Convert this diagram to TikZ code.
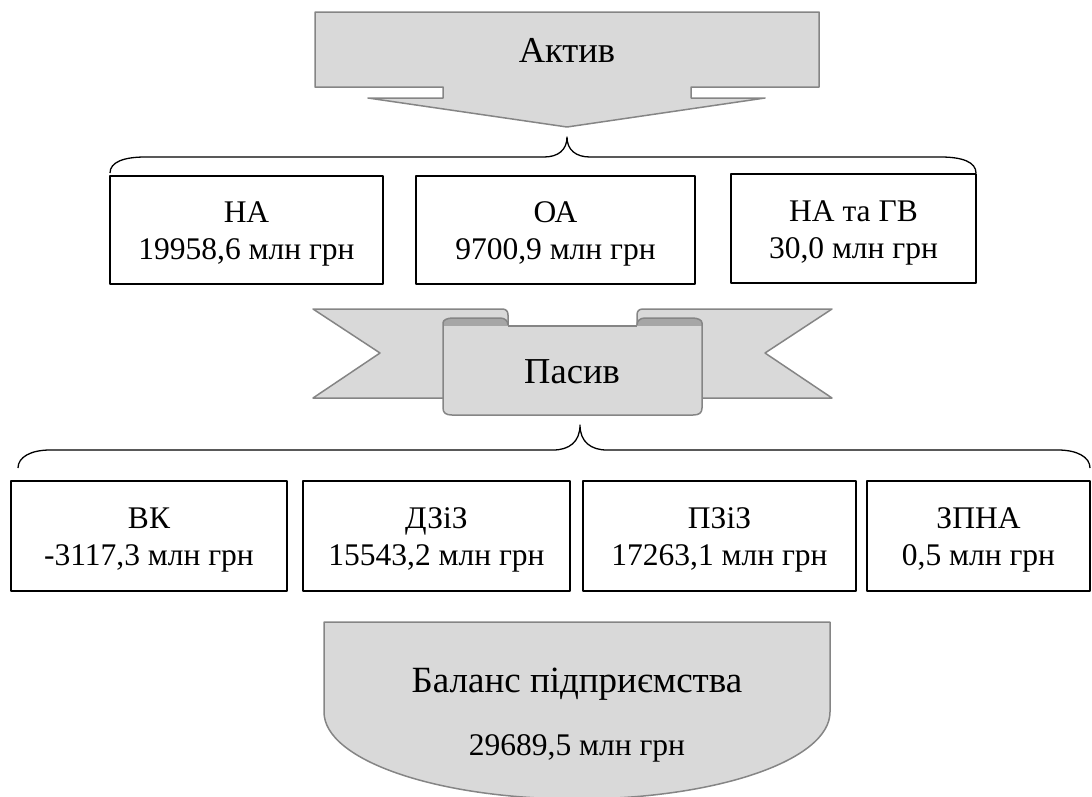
\documentclass[tikz,border=0pt]{standalone}
\usepackage{fontspec}
\setmainfont{Liberation Serif}
\usepackage{tikz}
\usetikzlibrary{positioning,calc}

\definecolor{shapefill}{HTML}{D9D9D9}
\definecolor{shapeline}{HTML}{858585}
\definecolor{rollfill}{HTML}{A6A6A6}

\begin{document}
\begin{tikzpicture}[x=1pt, y=-1pt, line join=round,
    greyshape/.style={fill=shapefill, draw=shapeline, line width=1.5pt},
    greyline/.style={draw=shapeline, line width=1.5pt},
    itemtext/.style={inner sep=0pt, align=center, yshift=-4pt, font=\fontsize{31.5}{37}\selectfont},
    itembox/.style={draw=black, line width=2.6pt, rectangle, inner sep=0pt,
        label={[itemtext]center:#1}},
    bracket/.style={draw=black, line width=1.3pt},
    headtext/.style={anchor=base, inner sep=0pt, font=\fontsize{36.5}{42}\selectfont}]
\useasboundingbox (0,0) rectangle (1092,796);

% Актив
\draw[greyshape] (315,12) -- (819,12) -- (819,87) -- (691,87) -- (691,98) -- (765,98) -- (567,127)
    -- (368,98) -- (443,98) -- (443,87) -- (315,87) -- cycle;
\node[headtext] (aktiv) at (567,62) {Актив};

\coordinate (ab) at (567,137);
\draw[bracket] (110,173) .. controls (110,162) and (124,157) .. (145,157) -- (544,157)
    .. controls (558,157) and (567,150) .. (ab) .. controls (567,150) and (576,157) .. (590,157)
    -- (941,157) .. controls (962,157) and (976,162) .. (976,173);

\node[itembox={НА\\19958,6 млн грн}, minimum width=273pt, minimum height=108pt] (na) at (246.5,230) {};
\node[itembox={ОА\\9700,9 млн грн}, minimum width=279pt, minimum height=108pt] (oa) at (555.5,230) {};
\node[itembox={НА та ГВ\\30,0 млн грн}, minimum width=245pt, minimum height=109pt] (nagv) at (853.5,228.5) {};

% Пасив
\draw[greyshape] (313,309) -- (502,309) .. controls (506,309) and (508,311) .. (508,315)
    -- (508,398) -- (313,398) -- (380,353) -- cycle;
\draw[greyshape] (832,309) -- (643,309) .. controls (639,309) and (637,311) .. (637,315)
    -- (637,398) -- (832,398) -- (765,353) -- cycle;
\fill[rollfill] (443,327) -- (443,323) .. controls (443,320) and (447,318) .. (453,318) -- (500,318)
    .. controls (505,318) and (508,321) .. (508,325) -- (508,327) -- cycle;
\fill[rollfill] (702,327) -- (702,323) .. controls (702,320) and (698,318) .. (692,318) -- (645,318)
    .. controls (640,318) and (637,321) .. (637,325) -- (637,327) -- cycle;
\fill[shapefill] (443,326) -- (443,408) .. controls (443,413) and (446,415) .. (452,415) -- (693,415)
    .. controls (699,415) and (702,413) .. (702,408) -- (702,326) -- cycle;
\draw[greyline] (508,326) -- (637,326);
\draw[greyline] (508,325) .. controls (508,321) and (505,318) .. (500,318) -- (453,318)
    .. controls (447,318) and (443,320) .. (443,323) -- (443,408) .. controls (443,413) and (446,415) .. (452,415)
    -- (693,415) .. controls (699,415) and (702,413) .. (702,408) -- (702,323)
    .. controls (702,320) and (698,318) .. (692,318) -- (645,318) .. controls (640,318) and (637,321) .. (637,325);
\node[headtext] (pasyv) at (572,383) {Пасив};

\coordinate (pb) at (580,425);
\draw[bracket] (18,468) .. controls (18,457) and (31,450) .. (50,450) -- (553,450)
    .. controls (569,450) and (580,442) .. (pb) .. controls (580,442) and (591,450) .. (607,450)
    -- (1058,450) .. controls (1077,450) and (1090,457) .. (1090,468);

\node[itembox={ВК\\-3117,3 млн грн}, minimum width=276pt, minimum height=110pt] (vk) at (149,536) {};
\node[itembox={ДЗіЗ\\15543,2 млн грн}, minimum width=267pt, minimum height=110pt] (dziz) at (436.5,536) {};
\node[itembox={ПЗіЗ\\17263,1 млн грн}, minimum width=273pt, minimum height=110pt] (pziz) at (719.5,536) {};
\node[itembox={ЗПНА\\0,5 млн грн}, minimum width=223pt, minimum height=110pt] (zpna) at (978.5,536) {};

% Баланс
\draw[greyshape] (324,712) -- (324,622) -- (830,622) -- (830,712)
    .. controls (830,760) and (717,799) .. (577,799) .. controls (437,799) and (324,760) .. cycle;
\node[headtext, font=\fontsize{37}{42}\selectfont] (balans) at (577,692) {Баланс підприємства};
\node[headtext, font=\fontsize{31.5}{37}\selectfont] (suma) at (577,755) {29689,5 млн грн};
\end{tikzpicture}
\end{document}
